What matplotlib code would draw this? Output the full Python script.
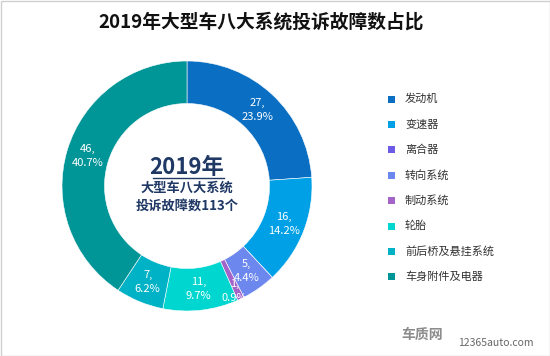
import numpy as np
import matplotlib.pyplot as plt
from matplotlib.patches import Rectangle

plt.rcParams['font.family'] = ['Noto Sans CJK SC', 'DejaVu Sans']

categories = ['发动机', '变速器', '离合器', '转向系统', '制动系统', '轮胎', '前后桥及悬挂系统', '车身附件及电器']
counts = [27, 16, 0, 5, 1, 11, 7, 46]
colors = ['#0a6fc2', '#00a0e6', '#6b5be6', '#6c88ee', '#a463c9', '#00d6d0', '#00b2c6', '#009597']

total = sum(counts)

fig = plt.figure(figsize=(5.5, 3.56), dpi=100)
W, H = 550, 356

# outer frame
fig.patches.append(Rectangle((0.5/W, 0.5/H), 1-1/W, 1-1/H, transform=fig.transFigure,
                             fill=False, edgecolor='#d0d0d0', lw=1))

fig.text(261/W, 1-22/H, '2019年大型车八大系统投诉故障数占比', ha='center', va='center',
         fontsize=13.5, fontweight='bold', color='#111111')

# donut
ax = fig.add_axes([62/W, (H-311)/H, 250/W, 250/H])
wedges, _ = ax.pie(counts, colors=colors, startangle=90, counterclock=False,
                   radius=1.0, wedgeprops=dict(width=0.34, edgecolor='white', linewidth=0.4))
ax.set_xlim(-1, 1)
ax.set_ylim(-1, 1)
ax.set_aspect('equal')

# labels in the ring
ang = 90
for c in counts:
    sweep = 360 * c / total
    if c > 0:
        mid = np.deg2rad(ang - sweep / 2)
        r = 0.83 if c > 2 else 0.93
        ax.text(r*np.cos(mid) - (0.02 if c <= 2 else 0), r*np.sin(mid), f'{c},\n{c/total*100:.1f}%',
                ha='center', va='center', fontsize=8, color='white', linespacing=1.5)
    ang -= sweep

# centre text
ax.text(0, 0.15, '2019年', ha='center', va='center', fontsize=16, fontweight='bold', color='#1f3864')
ax.plot([-0.275, 0.295], [0.065, 0.065], color='#1f3864', lw=1)
ax.text(0, -0.01, '大型车八大系统', ha='center', va='center', fontsize=9.5, fontweight='bold', color='#1f3864')
ax.text(0, -0.155, f'投诉故障数{total}个', ha='center', va='center', fontsize=9.5, fontweight='bold', color='#1f3864')

# legend
for i, (lab, col) in enumerate(zip(categories, colors)):
    y = 99 + i * 25.4
    fig.patches.append(Rectangle((388/W, 1-(y+3.5)/H), 7/W, 7/H, transform=fig.transFigure,
                                 facecolor=col, edgecolor='none'))
    fig.text(405/W, 1-y/H, lab, ha='left', va='center', fontsize=8, color='#333333')

# watermark
fig.text(422/W, 1-335/H, '车质网', ha='center', va='center', fontsize=10, fontweight='bold',
         color='#8c8c8c', style='italic')
fig.text(458/W, 1-343/H, '12365auto.com', ha='left', va='center', fontsize=7.5, color='#666666')

fig.savefig('out.png', dpi=100, facecolor='white')
